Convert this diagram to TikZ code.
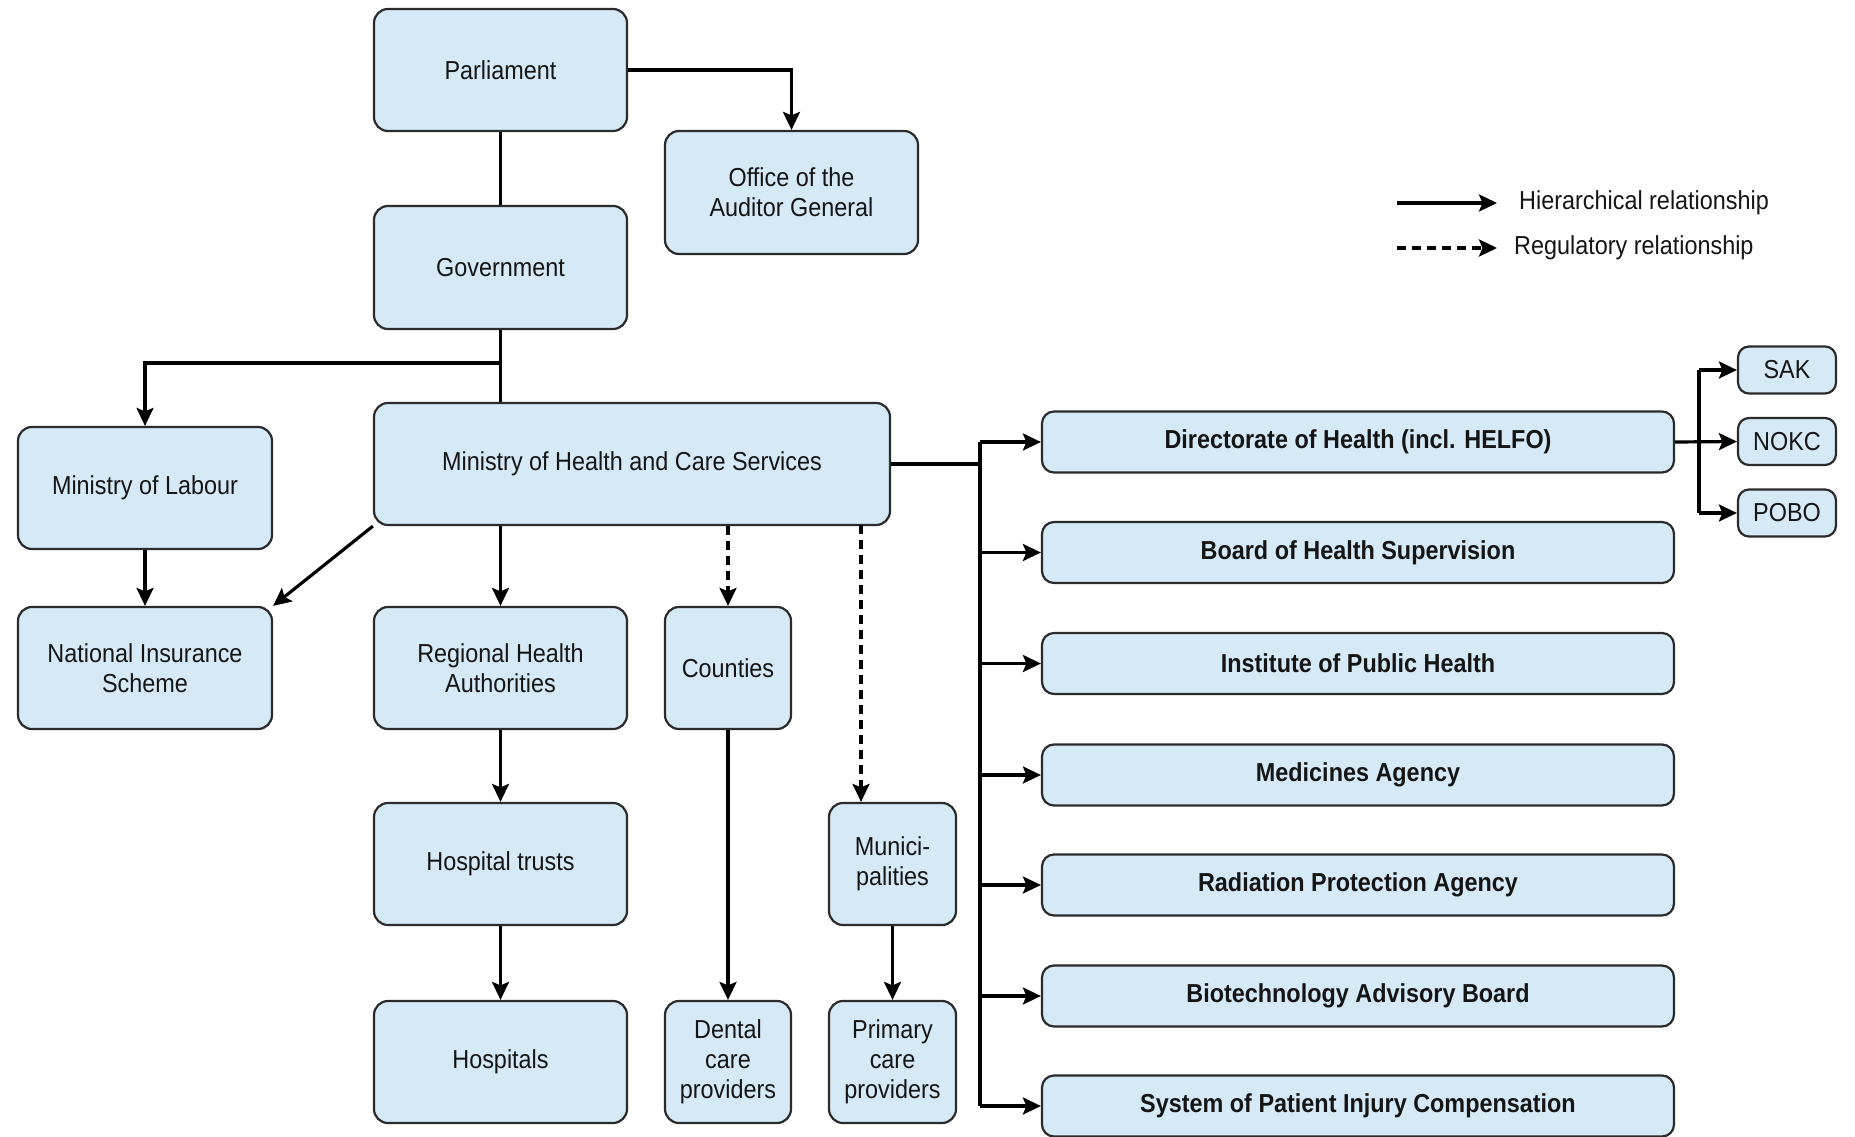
\documentclass[tikz,border=0pt]{standalone}
\usepackage{fontspec}
\setmainfont{Liberation Sans}[FakeStretch=0.9]
\usetikzlibrary{arrows.meta}
\definecolor{boxfill}{HTML}{D6E9F7}
\definecolor{edge}{HTML}{2B2B2B}
\definecolor{txt}{HTML}{151515}
\tikzset{
  box/.style={draw=edge, line width=2.2pt, fill=boxfill, rounded corners=14pt,
    align=center, inner sep=0pt, text=txt,
    font=\fontsize{26}{30}\selectfont},
  bbox/.style={box, font=\fontsize{26}{30}\selectfont\bfseries,
    minimum width=632pt, minimum height=61pt, rounded corners=12pt},
  sbox/.style={box, minimum width=98pt, minimum height=47pt, rounded corners=11pt},
  conn/.style={draw=black, line width=3.2pt, -{Stealth[length=18pt,width=17pt,inset=3.5pt]}},
  plainline/.style={draw=black, line width=3.2pt},
  regline/.style={conn, dash pattern=on 9pt off 6pt},
  legtext/.style={anchor=west, inner sep=0pt, text=txt, font=\fontsize{26}{30}\selectfont}
}
\begin{document}
\begin{tikzpicture}[x=1pt,y=-1pt]
\useasboundingbox[fill=white] (0,0) rectangle (1855,1137);

% left / middle column boxes
\node[box, minimum width=253pt, minimum height=122pt] (parl) at (500.5,70) {Parliament};
\node[box, minimum width=253pt, minimum height=123pt] (aud) at (791.5,192.5) {Office of the\\Auditor General};
\node[box, minimum width=253pt, minimum height=123pt] (gov) at (500.5,267.5) {Government};
\node[box, minimum width=254pt, minimum height=122pt] (lab) at (145,488) {Ministry of Labour};
\node[box, minimum width=516pt, minimum height=122pt] (moh) at (632,464) {Ministry of Health and Care Services};
\node[box, minimum width=254pt, minimum height=122pt] (nis) at (145,668) {National Insurance\\Scheme};
\node[box, minimum width=253pt, minimum height=122pt] (rha) at (500.5,668) {Regional Health\\Authorities};
\node[box, minimum width=126pt, minimum height=122pt] (cou) at (728,668) {Counties};
\node[box, minimum width=253pt, minimum height=122pt] (ht) at (500.5,864) {Hospital trusts};
\node[box, minimum width=127pt, minimum height=122pt] (mun) at (892.5,864) {Munici-\\palities};
\node[box, minimum width=253pt, minimum height=122pt] (hosp) at (500.5,1062) {Hospitals};
\node[box, minimum width=126pt, minimum height=122pt] (den) at (728,1062) {Dental\\care\\providers};
\node[box, minimum width=127pt, minimum height=122pt] (pri) at (892.5,1062) {Primary\\care\\providers};

% right column boxes
\node[bbox] (dir) at (1358,442) {Directorate of Health (incl. HELFO)};
\node[bbox] (bhs) at (1358,552.5) {Board of Health Supervision};
\node[bbox] (iph) at (1358,663.5) {Institute of Public Health};
\node[bbox] (med) at (1358,775) {Medicines Agency};
\node[bbox] (rad) at (1358,885) {Radiation Protection Agency};
\node[bbox] (bio) at (1358,996) {Biotechnology Advisory Board};
\node[bbox] (spi) at (1358,1106) {System of Patient Injury Compensation};

\node[sbox] (sak) at (1787,370) {SAK};
\node[sbox] (nokc) at (1787,441.5) {NOKC};
\node[sbox] (pobo) at (1787,513) {POBO};

% connectors
\draw[conn] (parl.east) -| (aud.north);
\draw[plainline] (parl.south) -- (gov.north);
\draw[plainline] (gov.south) -- (moh.north -| gov.south);
\coordinate (split) at (500.5,363);
\draw[conn] (split) -| (lab.north);
\draw[conn] (lab.south) -- (nis.north);
\draw[conn] (moh.south west) -- (nis.north east);
\draw[conn] (moh.south -| rha.north) -- (rha.north);
\draw[regline] (moh.south -| cou.north) -- (cou.north);
\coordinate (mdash) at (861,525);
\draw[regline] (mdash) -- (mdash |- mun.north);
\draw[conn] (rha.south) -- (ht.north);
\draw[conn] (ht.south) -- (hosp.north);
\draw[conn] (cou.south) -- (den.north);
\draw[conn] (mun.south) -- (pri.north);

% bus to agencies
\coordinate (bus) at (980,464);
\coordinate (bustop) at (980,442);
\coordinate (busbot) at (980,1106);
\draw[plainline] (moh.east |- bus) -- (bus);
\draw[plainline] (bustop) -- (busbot);
\foreach \n in {dir,bhs,iph,med,rad,bio,spi}{
  \draw[conn] (\n.west -| bus) -- (\n.west);
}
% directorate sub-bus
\coordinate (sbt) at (1699,370);
\coordinate (sbb) at (1699,513);
\draw[conn] (dir.east) -- (nokc.west);
\draw[plainline] (sbt) -- (sbb);
\draw[conn] (sbt) -- (sak.west);
\draw[conn] (sbb) -- (pobo.west);

% legend
\coordinate (l1a) at (1397,203);
\coordinate (l1b) at (1497,203);
\coordinate (l2a) at (1397,248);
\coordinate (l2b) at (1497,248);
\draw[conn] (l1a) -- (l1b);
\draw[regline] (l2a) -- (l2b);
\node[legtext] (lt1) at (1519,203) {Hierarchical relationship};
\node[legtext] (lt2) at (1514,248) {Regulatory relationship};
\end{tikzpicture}
\end{document}
